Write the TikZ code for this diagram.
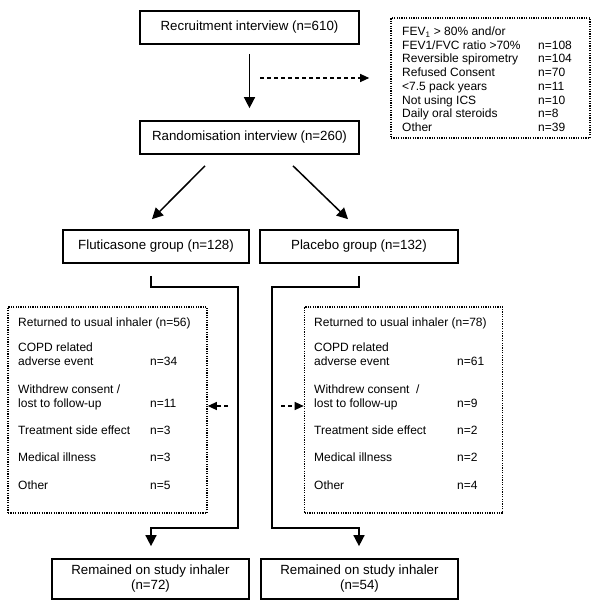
\documentclass[tikz,border=0pt]{standalone}
\usepackage{fontspec}
\setmainfont{Liberation Sans}
\usetikzlibrary{arrows.meta,calc}
\newcommand{\bigf}{\fontsize{13.3}{15}\selectfont}
\newcommand{\smallf}{\fontsize{12}{13.7}\selectfont}
\tikzset{
  box/.style={draw, line width=1.7pt, inner sep=0pt, align=center, font=\bigf},
  dotbox/.style={draw, line width=1.6pt, dash pattern=on 1.2pt off 1.2pt, inner sep=0pt},
  conn/.style={line width=1.5pt},
  arr/.style={conn, -{Triangle[length=11pt,width=11pt]}},
  darr/.style={line width=1.1pt, dash pattern=on 4pt off 3pt, -{Triangle[length=9pt,width=8pt]}},
  txt/.style={anchor=base west, inner sep=0pt, font=\smallf},
}
\begin{document}
\begin{tikzpicture}[x=1pt,y=-1pt]
\useasboundingbox (0,0) rectangle (600,608);
% main boxes
\node[box, minimum width=219pt, minimum height=33pt] (recr) at (249.5,27.5) {Recruitment interview (n=610)};
\node[box, minimum width=219pt, minimum height=33pt] (rand) at (249.5,137.5) {Randomisation interview (n=260)};
\node[box, minimum width=186pt, minimum height=33pt] (flut) at (156,246.5) {Fluticasone group (n=128)};
\node[box, minimum width=198pt, minimum height=33pt] (plac) at (359,246.5) {Placebo group (n=132)};
\node[box, minimum width=197pt, minimum height=40pt] (rem1) at (150.5,579) {Remained on study inhaler\\(n=72)};
\node[box, minimum width=197pt, minimum height=40pt] (rem2) at (359.5,579) {Remained on study inhaler\\(n=54)};
% dotted boxes
\node[dotbox, minimum width=199pt, minimum height=120pt] (excl) at (490.5,78) {};
\node[dotbox, minimum width=199pt, minimum height=206pt] (lbox) at (107.5,410) {};
\node[dotbox, minimum width=198pt, minimum height=206pt] (rbox) at (403.5,410) {};
% exclusion text
\node[txt] (e1) at (402,35.5) {FEV\textsubscript{1} > 80\% and/or};
\node[txt] (e2) at (402,49.2) {FEV1/FVC ratio >70\%};
\node[txt] (e2n) at (538,49.2) {n=108};
\node[txt] (e3) at (402,62.9) {Reversible spirometry};
\node[txt] (e3n) at (538,62.9) {n=104};
\node[txt] (e4) at (402,76.6) {Refused Consent};
\node[txt] (e4n) at (538,76.6) {n=70};
\node[txt] (e5) at (402,90.3) {<7.5 pack years};
\node[txt] (e5n) at (538,90.3) {n=11};
\node[txt] (e6) at (402,104) {Not using ICS};
\node[txt] (e6n) at (538,104) {n=10};
\node[txt] (e7) at (402,117.7) {Daily oral steroids};
\node[txt] (e7n) at (538,117.7) {n=8};
\node[txt] (e8) at (402,131.4) {Other};
\node[txt] (e8n) at (538,131.4) {n=39};
% left list
\node[txt] (l1) at (18,326.5) {Returned to usual inhaler (n=56)};
\node[txt] (l2) at (18,351.5) {COPD related};
\node[txt] (l3) at (18,365.5) {adverse event};
\node[txt] (l3n) at (150,365.5) {n=34};
\node[txt] (l4) at (18,393.5) {Withdrew consent /};
\node[txt] (l5) at (18,407.5) {lost to follow-up};
\node[txt] (l5n) at (150,407.5) {n=11};
\node[txt] (l6) at (18,434.5) {Treatment side effect};
\node[txt] (l6n) at (150,434.5) {n=3};
\node[txt] (l7) at (18,461.5) {Medical illness};
\node[txt] (l7n) at (150,461.5) {n=3};
\node[txt] (l8) at (18,489.5) {Other};
\node[txt] (l8n) at (150,489.5) {n=5};
% right list
\node[txt] (r1) at (314,326.5) {Returned to usual inhaler (n=78)};
\node[txt] (r2) at (314,351.5) {COPD related};
\node[txt] (r3) at (314,365.5) {adverse event};
\node[txt] (r3n) at (457,365.5) {n=61};
\node[txt] (r4) at (314,393.5) {Withdrew consent~ /};
\node[txt] (r5) at (314,407.5) {lost to follow-up};
\node[txt] (r5n) at (457,407.5) {n=9};
\node[txt] (r6) at (314,434.5) {Treatment side effect};
\node[txt] (r6n) at (457,434.5) {n=2};
\node[txt] (r7) at (314,461.5) {Medical illness};
\node[txt] (r7n) at (457,461.5) {n=2};
\node[txt] (r8) at (314,489.5) {Other};
\node[txt] (r8n) at (457,489.5) {n=4};
% connectors
\draw[arr, shorten <=9pt, shorten >=12pt] (recr) -- (rand);
\coordinate (d1) at (260,78);
\draw[darr, shorten >=21pt] (d1) -- (excl.west);
\draw[arr] ($(rand.south)+(-44.5,11)$) -- ($(flut.north)+(-4,-10)$);
\draw[arr] ($(rand.south)+(43.5,11)$) -- ($(plac.north)+(-11,-10)$);
\draw[arr] ($(flut.south)+(-5,12)$) -- ++(0,11) -- ++(87,0) -- ++(0,241) -- ++(-87,0) -- ($(rem1.north)+(0.5,-12)$);
\draw[arr] ($(plac.south)+(0,12)$) -- ++(0,11) -- ++(-87,0) -- ++(0,241) -- ++(87,0) -- ($(rem2.north)+(-0.5,-12)$);
\coordinate (d2) at (228,406);
\draw[darr] (d2) -- (d2 -| lbox.east);
\coordinate (d3) at (281,406);
\draw[darr] (d3) -- (d3 -| rbox.west);
\end{tikzpicture}
\end{document}
